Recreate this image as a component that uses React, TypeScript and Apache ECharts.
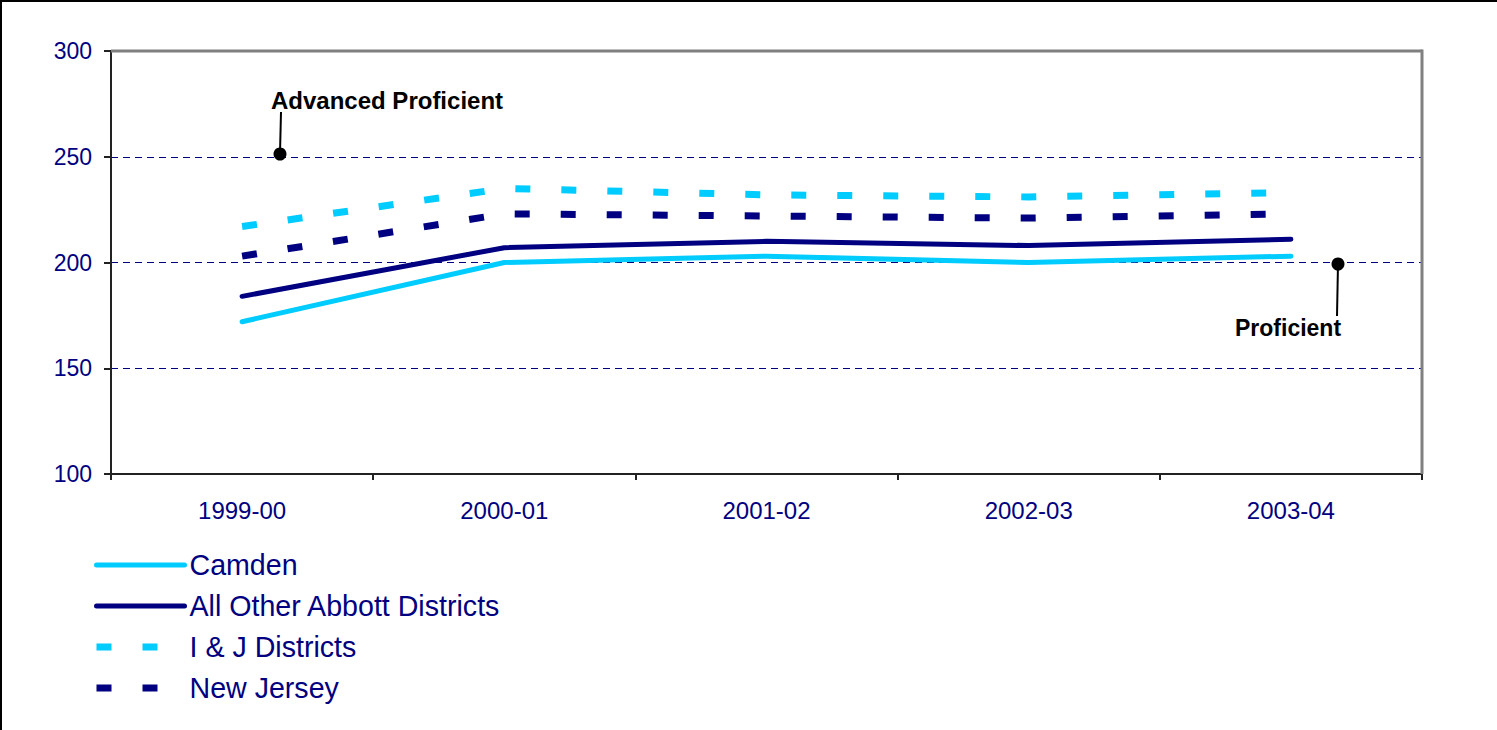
import React, { useEffect, useRef } from "react";
import * as echarts from "echarts";

const years = ["1999-00", "2000-01", "2001-02", "2002-03", "2003-04"];
const camden = [172, 200, 203, 200, 203];
const otherAbbott = [184, 207, 210, 208, 211];
const ijDistricts = [217, 235, 232, 231, 233];
const newJersey = [203, 223, 222, 221, 223];
const yTicks = { min: 100, max: 300, interval: 50 };

const CYAN = "#00CCFF";
const NAVY = "#000080";
const FONT = "'Liberation Sans', Arial, sans-serif";
const DASH = [15, 31];
const HIDE = { color: "rgba(0,0,0,0)", borderWidth: 0, opacity: 0 };

export default function App() {
  const ref = useRef<HTMLDivElement>(null);
  useEffect(() => {
    const chart = echarts.init(ref.current!, null, { renderer: "svg" });
    const gridL = 111, gridT = 51, gridR = 1422, gridB = 474;
    chart.setOption({
      animation: false,
      backgroundColor: "#ffffff",
      grid: { left: gridL, top: gridT, width: gridR - gridL, height: gridB - gridT, containLabel: false },
      xAxis: {
        type: "category",
        data: years,
        boundaryGap: true,
        axisLine: { show: true, lineStyle: { color: "#222", width: 2 } },
        axisTick: { show: true, length: 6, lineStyle: { color: "#222", width: 2 } },
        axisLabel: { color: NAVY, fontSize: 24, fontFamily: FONT, margin: 24 },
        splitLine: { show: false },
      },
      yAxis: {
        type: "value",
        min: yTicks.min,
        max: yTicks.max,
        interval: yTicks.interval,
        axisLine: { show: true, lineStyle: { color: "#222", width: 2 } },
        axisTick: { show: true, length: 7, lineStyle: { color: "#222", width: 2 } },
        axisLabel: { color: NAVY, fontSize: 23, fontFamily: FONT, margin: 19 },
        splitLine: { show: true, lineStyle: { color: NAVY, width: 1, type: [7, 5] } },
      },
      legend: {
        orient: "vertical",
        left: 93,
        top: 550,
        padding: 0,
        itemWidth: 88,
        itemHeight: 30,
        itemGap: 11,
        textStyle: { color: NAVY, fontSize: 28.6, fontFamily: FONT, lineHeight: 30 },
        data: [
          { name: "Camden", itemStyle: HIDE, lineStyle: { width: 5, type: "solid", cap: "round" } },
          { name: "All Other Abbott Districts", itemStyle: HIDE, lineStyle: { width: 5, type: "solid", cap: "round" } },
          { name: "I & J Districts", itemStyle: HIDE, lineStyle: { width: 7, type: DASH } },
          { name: "New Jersey", itemStyle: HIDE, lineStyle: { width: 7, type: DASH } },
        ],
      },
      series: [
        {
          name: "Camden", type: "line", data: camden, symbol: "none",
          color: CYAN, lineStyle: { color: CYAN, width: 5, cap: "round", join: "round" }, z: 4,
        },
        {
          name: "All Other Abbott Districts", type: "line", data: otherAbbott, symbol: "none",
          color: NAVY, lineStyle: { color: NAVY, width: 5, cap: "round", join: "round" }, z: 4,
        },
        {
          name: "I & J Districts", type: "line", data: ijDistricts, symbol: "none",
          color: CYAN, lineStyle: { color: CYAN, width: 7, type: DASH }, z: 3,
        },
        {
          name: "New Jersey", type: "line", data: newJersey, symbol: "none",
          color: NAVY, lineStyle: { color: NAVY, width: 7, type: DASH }, z: 3,
        },
      ],
      graphic: [
        { type: "line", z: 100, shape: { x1: gridL, y1: gridT, x2: gridR, y2: gridT }, style: { stroke: "#808080", lineWidth: 3 } },
        { type: "line", z: 100, shape: { x1: gridR, y1: gridT - 1.5, x2: gridR, y2: gridB }, style: { stroke: "#808080", lineWidth: 3 } },
        { type: "line", z: 100, shape: { x1: 0, y1: 1, x2: 1497, y2: 1 }, style: { stroke: "#000", lineWidth: 2 } },
        { type: "line", z: 100, shape: { x1: 1, y1: 0, x2: 1, y2: 730 }, style: { stroke: "#000", lineWidth: 2 } },
        {
          type: "text", z: 100, x: 271, y: 100,
          style: { text: "Advanced Proficient", fill: "#000", font: `bold 24px ${FONT}`, verticalAlign: "middle", align: "left" },
        },
        { type: "line", z: 100, shape: { x1: 281, y1: 112, x2: 280, y2: 153 }, style: { stroke: "#000", lineWidth: 2 } },
        { type: "circle", z: 100, shape: { cx: 280, cy: 154, r: 6.5 }, style: { fill: "#000" } },
        {
          type: "text", z: 100, x: 1235, y: 328,
          style: { text: "Proficient", fill: "#000", font: `bold 23px ${FONT}`, verticalAlign: "middle", align: "left" },
        },
        { type: "line", z: 100, shape: { x1: 1338, y1: 264, x2: 1337, y2: 316 }, style: { stroke: "#000", lineWidth: 2 } },
        { type: "circle", z: 100, shape: { cx: 1338, cy: 264, r: 6.5 }, style: { fill: "#000" } },
      ],
    });
    return () => chart.dispose();
  }, []);
  return (
    <div
      ref={ref}
      style={{ position: "fixed", left: 0, top: 0, width: 1497, height: 730, background: "#fff" }}
    />
  );
}
